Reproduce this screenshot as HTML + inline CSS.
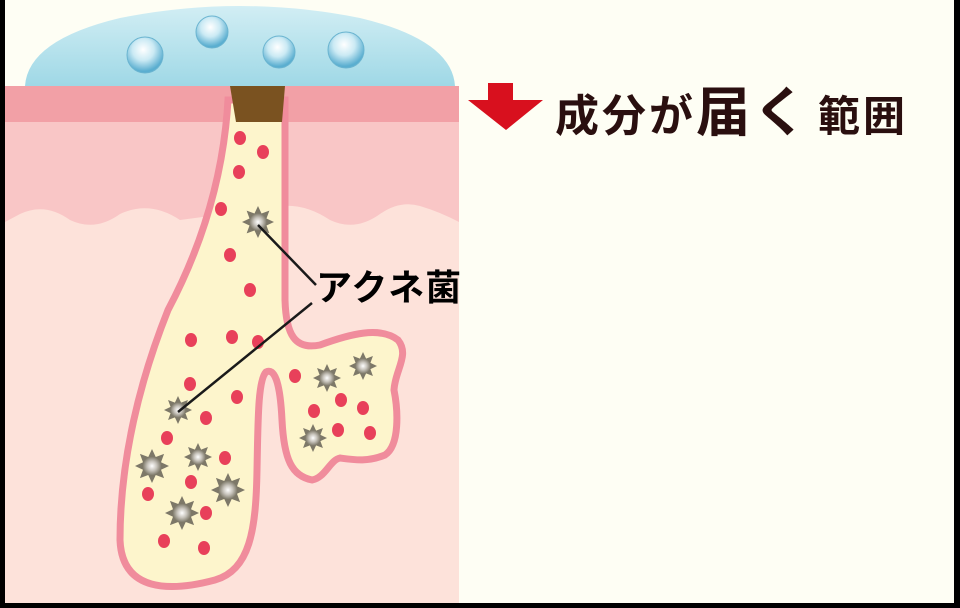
<!DOCTYPE html>
<html><head><meta charset="utf-8"><style>
html,body{margin:0;padding:0;background:#000;}
#c{position:relative;width:960px;height:608px;overflow:hidden;background:#000;}
svg{position:absolute;left:0;top:0;}
</style></head><body><div id="c">
<svg width="960" height="608" viewBox="0 0 960 608" xmlns="http://www.w3.org/2000/svg">
<defs>
<radialGradient id="bac" cx="50%" cy="50%" r="50%"><stop offset="0" stop-color="#ffffff"/><stop offset="0.5" stop-color="#c8c4bc"/><stop offset="1" stop-color="#7d7868"/></radialGradient>
<radialGradient id="drop" cx="45%" cy="35%" r="60%"><stop offset="0" stop-color="#ffffff"/><stop offset="0.5" stop-color="#cbeaf4"/><stop offset="1" stop-color="#5aaed0"/></radialGradient>
<linearGradient id="dome" x1="0" y1="0" x2="0" y2="1"><stop offset="0" stop-color="#d2eef4"/><stop offset="1" stop-color="#9fd8e6"/></linearGradient>
<g id="star"><polygon points="0,-1 0.22,-0.53 0.71,-0.71 0.53,-0.22 1,0 0.53,0.22 0.71,0.71 0.22,0.53 0,1 -0.22,0.53 -0.71,0.71 -0.53,0.22 -1,0 -0.53,-0.22 -0.71,-0.71 -0.22,-0.53" fill="#7d7868"/><circle r="0.55" fill="url(#bac)"/></g>
</defs>
<rect x="5" y="0" width="949" height="603" fill="#fefef4"/>
<path d="M25,86 Q28,40 120,18 Q240,-6 360,18 Q452,40 455,86 Z" fill="url(#dome)"/>
<g fill="url(#drop)" stroke="#6ab4d0" stroke-width="1">
<circle cx="145" cy="55" r="18"/><circle cx="212" cy="32" r="16"/><circle cx="279" cy="52" r="16"/><circle cx="346" cy="50" r="18"/></g>
<rect x="5" y="86" width="454" height="517" fill="#fde2da"/>
<path d="M5,122 H459 V222 Q440,212 420,206 Q400,200 380,214 Q355,232 330,220 Q300,200 270,208 L180,220 Q150,200 120,214 Q95,232 70,220 Q45,202 20,214 L5,222 Z" fill="#f9c6c6"/>
<rect x="5" y="86" width="454" height="36" fill="#f2a0a6"/>
<path d="M228,100 C224,170 205,240 168,310 C140,380 120,460 120,540 C122,592 170,592 215,580 C250,570 256,530 257,470 C258,420 258,380 266,372 C274,368 280,380 282,420 C284,460 292,476 312,480 C325,478 330,460 340,458 C355,460 368,462 385,455 C400,445 398,410 394,390 C395,370 410,355 398,340 C380,326 350,334 320,345 C295,350 286,335 285,300 L285,100 Z" fill="#fdf5cc" stroke="#f08c9c" stroke-width="7"/>
<path d="M230,86 L285,86 L282,122 L236,122 Z" fill="#7a5220"/>
<g fill="#e8405a">
<ellipse cx="240" cy="138" rx="6" ry="7"/><ellipse cx="263" cy="152" rx="6" ry="7"/><ellipse cx="239" cy="172" rx="6" ry="7"/><ellipse cx="221" cy="209" rx="6" ry="7"/><ellipse cx="230" cy="255" rx="6" ry="7"/><ellipse cx="250" cy="290" rx="6" ry="7"/>
<ellipse cx="191" cy="340" rx="6" ry="7"/><ellipse cx="232" cy="337" rx="6" ry="7"/><ellipse cx="258" cy="342" rx="6" ry="7"/><ellipse cx="190" cy="384" rx="6" ry="7"/><ellipse cx="237" cy="397" rx="6" ry="7"/><ellipse cx="206" cy="418" rx="6" ry="7"/><ellipse cx="167" cy="438" rx="6" ry="7"/><ellipse cx="225" cy="458" rx="6" ry="7"/><ellipse cx="191" cy="482" rx="6" ry="7"/><ellipse cx="148" cy="494" rx="6" ry="7"/><ellipse cx="206" cy="513" rx="6" ry="7"/><ellipse cx="164" cy="541" rx="6" ry="7"/><ellipse cx="204" cy="548" rx="6" ry="7"/>
<ellipse cx="295" cy="376" rx="6" ry="7"/><ellipse cx="341" cy="400" rx="6" ry="7"/><ellipse cx="363" cy="408" rx="6" ry="7"/><ellipse cx="314" cy="411" rx="6" ry="7"/><ellipse cx="338" cy="430" rx="6" ry="7"/><ellipse cx="370" cy="433" rx="6" ry="7"/>
</g>
<use href="#star" transform="translate(258,222) scale(16)"/>
<use href="#star" transform="translate(178,410) scale(14)"/>
<use href="#star" transform="translate(152,466) scale(17)"/>
<use href="#star" transform="translate(198,457) scale(14)"/>
<use href="#star" transform="translate(228,490) scale(17)"/>
<use href="#star" transform="translate(182,513) scale(17)"/>
<use href="#star" transform="translate(327,378) scale(14)"/>
<use href="#star" transform="translate(363,366) scale(14)"/>
<use href="#star" transform="translate(313,438) scale(14)"/>
<line x1="258" y1="225" x2="316" y2="285" stroke="#1a1a1a" stroke-width="2.5"/>
<line x1="178" y1="412" x2="312" y2="303" stroke="#1a1a1a" stroke-width="2.5"/>
<text x="316" y="300" font-family="Liberation Sans, Noto Sans CJK JP, sans-serif" font-size="36" font-weight="bold" fill="#000" letter-spacing="1">アクネ菌</text>
<polygon points="488,83 513,83 513,100 543,100 506,130 468,100 488,100" fill="#d8101e"/>
<text y="131" font-family="Liberation Sans, Noto Sans CJK JP, sans-serif" font-weight="bold" fill="#2a0f0f"><tspan x="555" font-size="44" letter-spacing="3">成分が</tspan><tspan font-size="54" letter-spacing="3">届く</tspan><tspan font-size="42" dx="8" letter-spacing="3">範囲</tspan></text>
</svg>
</div></body></html>
